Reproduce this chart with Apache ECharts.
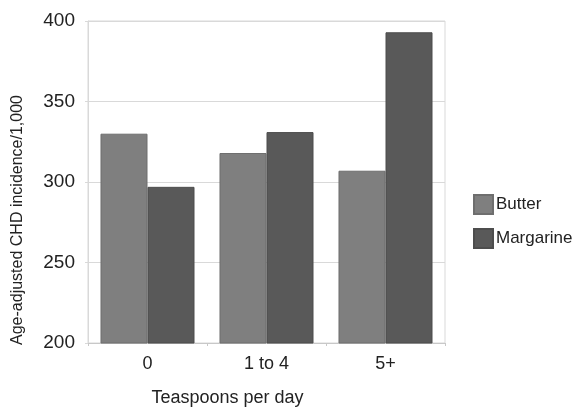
<!DOCTYPE html>
<html>
<head>
<meta charset="utf-8">
<script src="https://cdn.jsdelivr.net/npm/echarts@6/dist/echarts.min.js"></script>
<style>html,body{margin:0;padding:0;background:#fff}#c{width:576px;height:412px}</style>
</head>
<body>
<div id="c"></div>
<script>
var categories = ['0', '1 to 4', '5+'];
var butter = [330, 318, 307];
var margarine = [297, 331, 393];
var seriesNames = ['Butter', 'Margarine'];
var yTicks = { min: 200, max: 400, interval: 50 };

var font = 'Liberation Sans, Arial, sans-serif';
var chart = echarts.init(document.getElementById('c'), null, { renderer: 'canvas' });
chart.setOption({
  animation: false,
  backgroundColor: '#fff',
  textStyle: { fontFamily: font, color: '#222' },
  grid: { left: 88, right: 131, top: 21, bottom: 65, show: true, borderColor: '#d9d9d9', borderWidth: 1 },
  legend: {
    orient: 'vertical', left: 468, top: 189,
    itemWidth: 19, itemHeight: 19, itemGap: 13, icon: 'rect',
    textStyle: { fontSize: 17, color: '#222', fontFamily: font, padding: [0, 0, 0, -2] },
    data: seriesNames
  },
  xAxis: {
    type: 'category', data: categories,
    name: 'Teaspoons per day', nameLocation: 'middle', nameGap: 46,
    nameTextStyle: { fontSize: 18, color: '#222', padding: [0, 78, 0, 0] },
    axisLine: { lineStyle: { color: '#c8c8c8' } },
    axisTick: { show: true, length: 3, lineStyle: { color: '#c8c8c8' } },
    axisLabel: { fontSize: 18, color: '#222', margin: 12 }
  },
  yAxis: {
    type: 'value', min: yTicks.min, max: yTicks.max, interval: yTicks.interval,
    name: 'Age-adjusted CHD incidence/1,000', nameLocation: 'middle', nameGap: 62, nameRotate: 90,
    nameTextStyle: { fontSize: 16, color: '#222', padding: [0, 76, 0, 0] },
    axisLine: { show: true, lineStyle: { color: '#d9d9d9' } },
    axisTick: { show: true, length: 3, lineStyle: { color: '#d9d9d9' } },
    axisLabel: { fontSize: 19, color: '#222', margin: 13 },
    splitLine: { lineStyle: { color: '#d9d9d9' } }
  },
  series: [
    { name: seriesNames[0], type: 'bar', data: butter, barGap: '0%', barCategoryGap: '21%',
      itemStyle: { color: '#7f7f7f', borderColor: '#6e6e6e', borderWidth: 1 } },
    { name: seriesNames[1], type: 'bar', data: margarine, barGap: '0%', barCategoryGap: '21%',
      itemStyle: { color: '#595959', borderColor: '#4d4d4d', borderWidth: 1 } }
  ]
});
</script>
</body>
</html>
